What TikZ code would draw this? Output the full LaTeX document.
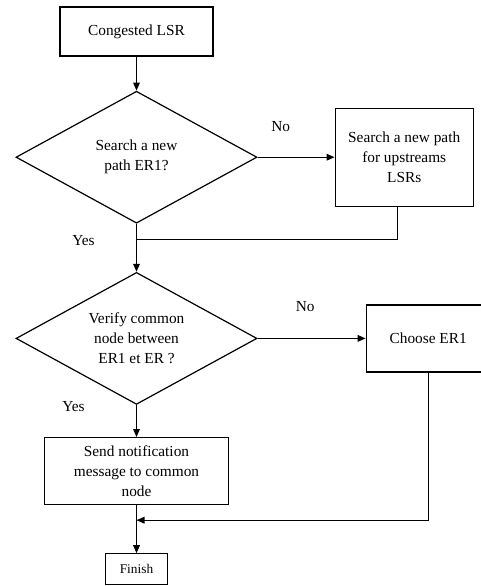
\documentclass[tikz,border=0pt]{standalone}
\usepackage{fontspec}
\setmainfont{Liberation Serif}
\usetikzlibrary{positioning,shapes.geometric,arrows.meta}

\begin{document}
\begin{tikzpicture}[
  x=0.75pt, y=-0.75pt,
  box/.style={draw, line width=0.9pt, inner sep=2pt, align=center,
    font=\fontsize{11.5pt}{15pt}\selectfont},
  decision/.style={diamond, draw, line width=0.9pt, inner sep=0pt, align=center,
    aspect=1.83, minimum width=180.75pt, minimum height=99pt,
    font=\fontsize{11.5pt}{15pt}\selectfont},
  lbl/.style={font=\fontsize{11.5pt}{15pt}\selectfont, inner sep=1pt},
  arrow/.style={-{Triangle[length=6pt,width=5pt]}, line width=0.9pt},
  line/.style={line width=0.9pt}
]
\useasboundingbox (0,0) rectangle (481,586);
\clip (0,0) rectangle (481,586);

% Start
\node[box, minimum width=114.75pt, minimum height=36.75pt] (start) at (136.5,31.5) {Congested LSR};

% First test and its No branch
\node[decision, below=25.5pt of start] (search) {Search a new\\path ER1?};
\node[box, right=57.75pt of search, minimum width=103.5pt, minimum height=73.5pt] (upstream)
  {Search a new path\\for upstreams\\LSRs};
\coordinate[below=12pt of search.south] (join1);

% Second test and its No branch
\node[decision, below=36pt of search] (verify) {Verify common\\node between\\ER1 et ER ?};
\node[box, right=81pt of verify, minimum width=93pt, minimum height=50.25pt] (choose) {Choose ER1};

% Notification and end
\node[box, below=24pt of verify, minimum width=138pt, minimum height=50.25pt] (notify)
  {Send notification\\message to common\\node};
\coordinate[below=11.25pt of notify.south] (join2);
\node[box, below=36pt of notify, minimum width=46.5pt, minimum height=23.25pt,
  font=\fontsize{10pt}{12pt}\selectfont] (finish) {Finish};

% Arrows
\draw[arrow] (start) -- (search);
\draw[arrow] (search) -- node[lbl, pos=0.3, yshift=23pt] {No} (upstream);
\draw[line] ([xshift=-5pt]upstream.south) |- (join1);
\draw[arrow] (search) -- node[lbl, pos=0.34, left=30pt] {Yes} (verify);
\draw[arrow] (verify) -- node[lbl, pos=0.44, yshift=24pt] {No} (choose);
\draw[arrow] (verify) -- node[lbl, pos=0.05, left=37.5pt] {Yes} (notify);
\draw[arrow] (choose.south) |- (join2);
\draw[arrow] (notify) -- (finish);

\end{tikzpicture}
\end{document}
